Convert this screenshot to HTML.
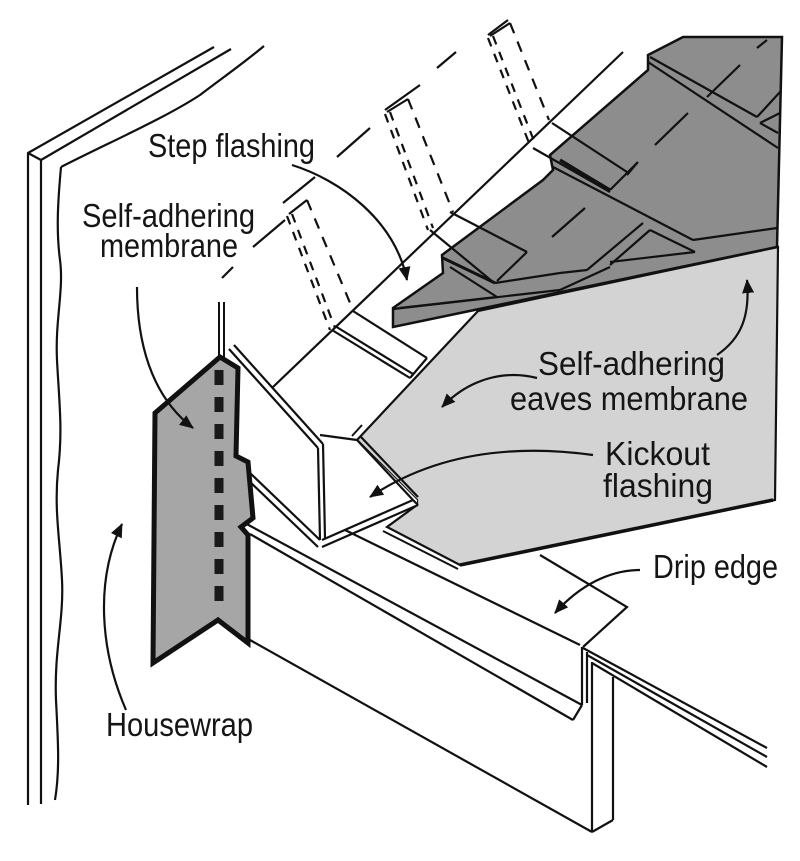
<!DOCTYPE html>
<html>
<head>
<meta charset="utf-8">
<style>
html,body{margin:0;padding:0;background:#fff;}
svg{display:block;}
text{font-family:"Liberation Sans",Arial,sans-serif;font-size:33px;fill:#151515;}
</style>
</head>
<body>
<svg width="800" height="861" viewBox="0 0 800 861" xmlns="http://www.w3.org/2000/svg">
<defs>
<marker id="ah" markerWidth="14" markerHeight="12" refX="13" refY="6" orient="auto" markerUnits="userSpaceOnUse">
<path d="M0,0 L14,6 L0,12 z" fill="#111"/>
</marker>
</defs>

<!-- WALL -->
<g fill="none" stroke="#111" stroke-width="2.2" stroke-linejoin="round">
<path d="M28,805 L28,153 L214,47"/>
<path d="M41,804 L41,160 L231,49"/>
<path d="M28,153 L41,160"/>
<path d="M61,167 C110,142 165,118 200,95 C225,76 245,62 264,46"/>
<path d="M61,167 C58,200 56,230 60,260 C64,290 55,320 57,360 C59,400 63,430 58,470 C54,510 60,540 62,580 C64,620 54,650 56,700 C58,740 60,770 55,800"/>
</g>

<!-- Wall/roof intersection dashed segments -->
<g stroke="#111" stroke-width="2.2" fill="none">
<line x1="222" y1="278" x2="233" y2="267"/>
<line x1="253" y1="247" x2="285" y2="220"/>
<line x1="283" y1="203" x2="315" y2="177"/>
<line x1="337" y1="157" x2="370" y2="128"/>
<line x1="385" y1="110" x2="420" y2="85"/>
<line x1="437" y1="68" x2="456" y2="52"/>
<line x1="488" y1="35" x2="508" y2="20"/>
<!-- long roof line -->
<line x1="273" y1="387" x2="623" y2="52"/>
</g>

<!-- Step flashing pieces -->
<g stroke="#111" stroke-width="2.2" fill="none">
<!-- piece 1 -->
<line x1="289" y1="214" x2="307" y2="200"/>
<line x1="287" y1="216" x2="330" y2="330" stroke-dasharray="9 8"/>
<line x1="292" y1="214" x2="335" y2="328" stroke-dasharray="9 8"/>
<line x1="307" y1="200" x2="353" y2="310" stroke-dasharray="11 9"/>
<!-- piece 2 -->
<line x1="387" y1="112" x2="408" y2="99"/>
<line x1="385" y1="114" x2="428" y2="230" stroke-dasharray="9 8"/>
<line x1="390" y1="112" x2="433" y2="228" stroke-dasharray="9 8"/>
<line x1="408" y1="99" x2="453" y2="212" stroke-dasharray="11 9"/>
<!-- piece 3 -->
<line x1="490" y1="36" x2="510" y2="23"/>
<line x1="488" y1="38" x2="529" y2="143" stroke-dasharray="9 8"/>
<line x1="493" y1="36" x2="534" y2="141" stroke-dasharray="9 8"/>
<line x1="510" y1="23" x2="549" y2="120" stroke-dasharray="11 9"/>
<!-- piece 1 flange -->
<line x1="332" y1="330" x2="410" y2="378"/>
<line x1="335" y1="326" x2="413" y2="374"/>
<line x1="353" y1="311" x2="427" y2="358"/>
<line x1="410" y1="378" x2="427" y2="358"/>
</g>

<!-- LIGHT GRAY EAVES MEMBRANE -->
<polygon points="357,440 478,311 778,247 775,500 460,565 387,527 417,505 417,500" fill="#d3d3d3" stroke="#111" stroke-width="2.2" stroke-linejoin="miter"/>
<line x1="460" y1="565" x2="773" y2="500" stroke="#111" stroke-width="3.5"/>
<line x1="383" y1="531" x2="458" y2="569" stroke="#111" stroke-width="2"/>
<line x1="352" y1="436" x2="362" y2="425" stroke="#111" stroke-width="2"/>

<!-- DARK SHINGLES -->
<polygon points="393,308 443,273 442,255 543,180 553,170 550,155 648,70 648,55 683,37 782,37 777,247 393,327" fill="#8d8d8d" stroke="#111" stroke-width="2.5" stroke-linejoin="miter"/>
<g stroke="#111" stroke-width="2.2" fill="none">
<line x1="393" y1="309" x2="560" y2="290"/>
<line x1="400" y1="308" x2="497" y2="297"/>
<line x1="497" y1="297" x2="450" y2="267"/>
<line x1="443" y1="258" x2="495" y2="283" stroke-width="3"/>
<line x1="495" y1="283" x2="560" y2="273"/>
<line x1="497" y1="281" x2="527" y2="252"/>
<line x1="560" y1="290" x2="610" y2="267"/>
<line x1="560" y1="273" x2="587" y2="270"/>
<line x1="587" y1="270" x2="643" y2="223"/>
<line x1="610" y1="265" x2="650" y2="230"/>
<line x1="650" y1="230" x2="695" y2="252"/>
<line x1="695" y1="252" x2="610" y2="262"/>
<line x1="560" y1="160" x2="610" y2="190" stroke-width="3.2"/>
<line x1="553" y1="167" x2="693" y2="240"/>
<line x1="693" y1="240" x2="777" y2="228"/>
<line x1="610" y1="190" x2="638" y2="162"/>
<line x1="650" y1="57" x2="757" y2="117"/>
<line x1="648" y1="62" x2="778" y2="148"/>
<line x1="757" y1="117" x2="780" y2="92"/>
<line x1="760" y1="123" x2="780" y2="113"/>
<line x1="760" y1="123" x2="778" y2="133"/>
<!-- nail/cut dashes -->
<line x1="552" y1="237" x2="585" y2="208"/>
<line x1="627" y1="175" x2="637" y2="163"/>
<line x1="655" y1="145" x2="688" y2="113"/>
<line x1="707" y1="97" x2="740" y2="65"/>
<line x1="757" y1="48" x2="767" y2="40"/>
<!-- step flashing flanges over shingles -->
<line x1="430" y1="230" x2="493" y2="282"/>
<line x1="450" y1="212" x2="527" y2="252"/>
<line x1="533" y1="148" x2="610" y2="192"/>
<line x1="552" y1="123" x2="627" y2="172"/>
</g>

<!-- KICKOUT FLASHING -->
<polygon points="357,440 417,500 417,506 322,547 318,448 320,435" fill="#fff" stroke="none"/>
<g stroke="#111" stroke-width="2.2" fill="none">
<line x1="229" y1="349" x2="318" y2="448"/>
<line x1="234" y1="345" x2="323" y2="444"/>
<line x1="318" y1="448" x2="320" y2="540"/>
<line x1="323" y1="444" x2="325" y2="538"/>
<line x1="322" y1="540" x2="413" y2="500"/>
<line x1="322" y1="547" x2="418" y2="505"/>
<line x1="357" y1="440" x2="413" y2="500"/>
<line x1="361" y1="437" x2="418" y2="497"/>
<line x1="413" y1="500" x2="418" y2="505"/>
<line x1="320" y1="435" x2="357" y2="440"/>
<line x1="250" y1="473" x2="320" y2="540"/>
<line x1="248" y1="480" x2="318" y2="547"/>
</g>

<!-- FASCIA / DRIP EDGE -->
<g stroke="#111" stroke-width="2.2" fill="none" stroke-linejoin="miter">
<line x1="243" y1="522" x2="582" y2="705"/>
<line x1="250" y1="534" x2="573" y2="720"/>
<line x1="573" y1="720" x2="582" y2="705"/>
<line x1="250" y1="640" x2="592" y2="832"/>
<line x1="345" y1="530" x2="580" y2="645"/>
<polyline points="540,555 627,607 583,647"/>
<line x1="582" y1="647" x2="582" y2="705"/>
<line x1="587" y1="652" x2="587" y2="703"/>
<line x1="592" y1="662" x2="592" y2="832"/>
<line x1="613" y1="677" x2="613" y2="820"/>
<line x1="592" y1="832" x2="613" y2="820"/>
<line x1="583" y1="648" x2="767" y2="748"/>
<line x1="587" y1="655" x2="767" y2="757"/>
<line x1="592" y1="663" x2="767" y2="767"/>
</g>

<!-- SELF-ADHERING MEMBRANE (left, on wall) -->
<line x1="219" y1="302" x2="219" y2="357" stroke="#111" stroke-width="2"/>
<line x1="224" y1="302" x2="224" y2="357" stroke="#111" stroke-width="2"/>
<polygon points="220,357 238,368 236,456 248,462 253,518 241,527 248,535 248,643 218,620 153,663 155,413" fill="#a6a6a6" stroke="#111" stroke-width="5" stroke-linejoin="miter"/>
<line x1="219" y1="370" x2="219" y2="612" stroke="#1a1a1a" stroke-width="9" stroke-dasharray="15 12"/>

<!-- ARROWS -->
<g fill="none" stroke="#111" stroke-width="2.2" marker-end="url(#ah)">
<path d="M292,165 C340,180 395,220 407,280"/>
<path d="M137,287 C137,340 150,395 193,428"/>
<path d="M126,710 C100,650 95,580 122,524"/>
<path d="M537,378 C505,370 470,378 442,407"/>
<path d="M717,355 C742,338 750,315 747,280"/>
<path d="M593,455 C520,445 440,450 370,497"/>
<path d="M640,570 C610,570 580,585 555,613"/>
</g>

<!-- LABELS -->
<text x="148" y="157" textLength="167" lengthAdjust="spacingAndGlyphs">Step flashing</text>
<text x="82" y="227" textLength="173" lengthAdjust="spacingAndGlyphs">Self-adhering</text>
<text x="100" y="257" textLength="138" lengthAdjust="spacingAndGlyphs">membrane</text>
<text x="538" y="375" textLength="187" lengthAdjust="spacingAndGlyphs">Self-adhering</text>
<text x="510" y="410" textLength="238" lengthAdjust="spacingAndGlyphs">eaves membrane</text>
<text x="605" y="465" textLength="105" lengthAdjust="spacingAndGlyphs">Kickout</text>
<text x="603" y="497" textLength="110" lengthAdjust="spacingAndGlyphs">flashing</text>
<text x="653" y="578" textLength="125" lengthAdjust="spacingAndGlyphs">Drip edge</text>
<text x="106" y="736" textLength="147" lengthAdjust="spacingAndGlyphs">Housewrap</text>
</svg>
</body>
</html>
